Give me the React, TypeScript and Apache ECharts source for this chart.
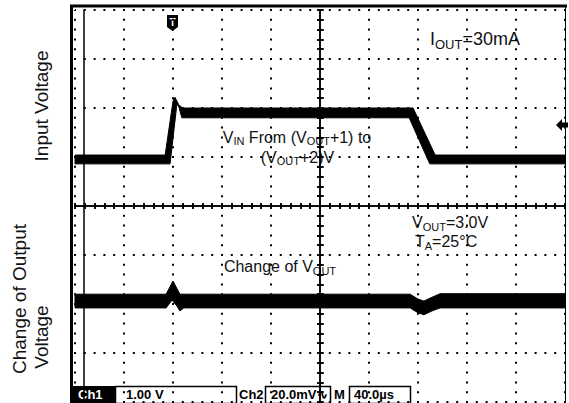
import React, { useEffect, useRef } from 'react';
import * as echarts from 'echarts';

// Oscilloscope screen: time in divisions (-5..5), voltage in divisions (-4..4)
const timeRange = [-5, 5];
const voltRange = [-4, 4];

// Ch1 (input voltage) trace envelope, [time div, volt div]
const ch1Top: number[][] = [
  [-5, 1.04], [-3.16, 1.04], [-3.0, 2.14], [-2.96, 2.22], [-2.88, 2.06], [-2.8, 2.0],
  [1.9, 2.0], [2.35, 1.04], [5, 1.04],
];
const ch1Bottom: number[][] = [
  [-5, 0.86], [-3.06, 0.86], [-2.92, 2.08], [-2.88, 2.02], [-2.82, 1.8],
  [1.82, 1.8], [2.24, 0.86], [5, 0.86],
];

// Ch2 (change of output voltage) trace envelope
const ch2Top: number[][] = [
  [-5, -1.8], [-3.14, -1.8], [-3.0, -1.53], [-2.86, -1.8], [1.84, -1.8], [2.0, -1.9],
  [2.12, -1.94], [2.29, -1.86], [2.45, -1.79], [5, -1.79],
];
const ch2Bottom: number[][] = [
  [-5, -2.08], [-3.14, -2.08], [-3.02, -1.92], [-2.92, -2.04], [-2.86, -2.14], [-2.78, -2.08],
  [1.84, -2.08], [2.0, -2.18], [2.12, -2.22], [2.29, -2.14], [2.45, -2.08], [5, -2.08],
];

const statusCh1 = 'Ch1';
const statusCh1Scale = '1.00 V';
const statusCh2 = 'Ch2';
const statusCh2Scale = '20.0mV\u223F';
const statusM = 'M';
const statusTime = '40.0\u00B5s';

const FONT = 'Liberation Sans, Arial, sans-serif';

const bandSeries = (top: number[][], bottom: number[][]) => ({
  type: 'custom',
  coordinateSystem: 'cartesian2d',
  xAxisIndex: 0,
  yAxisIndex: 0,
  silent: true,
  data: [[0, 0]],
  renderItem: (_p: any, api: any) => {
    const pts = [
      ...top.map((p) => api.coord(p)),
      ...bottom.slice().reverse().map((p) => api.coord(p)),
    ];
    return {
      type: 'polygon',
      shape: { points: pts },
      style: { fill: '#000', stroke: '#000', lineWidth: 1 },
    };
  },
});

const hidden = { show: false };
const tickAxis = (extra: any, inside: boolean, len: number) => ({
  type: 'value',
  axisLabel: hidden,
  splitLine: hidden,
  axisTick: { show: true, inside, length: len, lineStyle: { color: '#000', width: 1.5 } },
  minorTick: { show: true, splitNumber: 5, length: len, lineStyle: { color: '#000', width: 1.5 } },
  ...extra,
});

const dotted = { color: '#000', width: 2, type: [2, 7.8], dashOffset: 1 };

const sub = (size: number, drop: number) => ({ fontSize: size, fontFamily: FONT, fill: '#111', lineHeight: 7, padding: [drop, 0, 0, 0] });

const annot = (text: string, x: number, y: number, size: number, align: string, drop = 10) => ({
  type: 'text',
  style: {
    text, x, y, align, verticalAlign: 'middle', fontSize: size, lineHeight: size + 1,
    fontFamily: FONT, fill: '#111', rich: { s: sub(size - 5, drop) },
  },
});

const status = (text: string, x: number, fill: string) => ({
  type: 'text',
  style: { text, x, y: 394.5, align: 'left', verticalAlign: 'middle', fontSize: 13, fontWeight: 'bold', fontFamily: FONT, fill },
});

const App: React.FC = () => {
  const ref = useRef<HTMLDivElement>(null);
  useEffect(() => {
    if (!ref.current) return;
    const chart = echarts.init(ref.current, undefined, { renderer: 'svg' });
    const xCommon = { min: timeRange[0], max: timeRange[1], interval: 1 };
    const yCommon = { min: voltRange[0], max: voltRange[1], interval: 1 };
    const zeroLine = { show: true, onZero: true, onZeroAxisIndex: 0, lineStyle: { color: '#000', width: 1.5 } };
    const option: any = {
      animation: false,
      backgroundColor: '#fff',
      grid: { left: 75, top: 10, width: 490, height: 392, outerBoundsMode: 'none' },
      xAxis: [
        tickAxis({ ...xCommon, position: 'bottom', axisLine: hidden,
          splitLine: { show: true, lineStyle: dotted } }, true, 3),
        tickAxis({ ...xCommon, position: 'top', axisLine: hidden }, true, 3),
        tickAxis({ ...xCommon, position: 'bottom', axisLine: zeroLine }, true, 3),
        tickAxis({ ...xCommon, position: 'bottom', axisLine: zeroLine }, false, 3),
      ],
      yAxis: [
        tickAxis({ ...yCommon, position: 'left', axisLine: hidden,
          splitLine: { show: true, lineStyle: dotted } }, true, 4),
        tickAxis({ ...yCommon, position: 'right', axisLine: hidden }, true, 3),
        tickAxis({ ...yCommon, position: 'left', axisLine: zeroLine }, true, 3),
        tickAxis({ ...yCommon, position: 'left', axisLine: zeroLine }, false, 3),
        { type: 'value', ...yCommon, position: 'left', offset: -9, axisLabel: hidden, splitLine: hidden,
          axisTick: hidden, axisLine: { show: true, onZero: false, lineStyle: { color: '#000', width: 1.5 } } },
      ],
      series: [bandSeries(ch1Top, ch1Bottom), bandSeries(ch2Top, ch2Bottom)],
      graphic: [
        // frame
        { type: 'line', shape: { x1: 70, y1: 6, x2: 567, y2: 6 }, style: { stroke: '#000', lineWidth: 3 } },
        { type: 'line', shape: { x1: 71.5, y1: 5, x2: 71.5, y2: 403 }, style: { stroke: '#000', lineWidth: 3 } },
        { type: 'line', shape: { x1: 565.5, y1: 6, x2: 565.5, y2: 403 }, style: { stroke: '#000', lineWidth: 1 } },
        // trigger marker
        { type: 'polygon', shape: { points: [[167, 15], [178, 15], [178, 27], [172.5, 31], [167, 27]] }, style: { fill: '#000' } },
        { type: 'text', style: { text: 'T', x: 172.5, y: 22, align: 'center', verticalAlign: 'middle', fontSize: 10, fontWeight: 'bold', fontFamily: FONT, fill: '#fff' } },
        // trigger level arrow
        { type: 'polygon', shape: { points: [[556, 125], [562, 119], [562, 122.5], [568, 122.5], [568, 127.5], [562, 127.5], [562, 131]] }, style: { fill: '#000' } },
        // axis titles
        { type: 'text', x: 41, y: 106, rotation: Math.PI / 2, style: { text: 'Input Voltage', align: 'center', verticalAlign: 'middle', fontSize: 19, fontFamily: FONT, fill: '#111' } },
        { type: 'text', x: 19.5, y: 299, rotation: Math.PI / 2, style: { text: 'Change of Output', align: 'center', verticalAlign: 'middle', fontSize: 19, fontFamily: FONT, fill: '#111' } },
        { type: 'text', x: 41, y: 337, rotation: Math.PI / 2, style: { text: 'Voltage', align: 'center', verticalAlign: 'middle', fontSize: 19, fontFamily: FONT, fill: '#111' } },
        // annotations
        annot('I{s|OUT}=30mA', 430, 39.2, 18, 'left'),
        annot('V{s|IN} From (V{s|OUT}+1) to', 297, 137.5, 16, 'center', 7),
        annot('(V{s|OUT}+2)V', 297.5, 157.5, 16, 'center', 7),
        annot('V{s|OUT}=3.0V', 412, 222.4, 16, 'left'),
        annot('T{s|A}=25\u00B0C', 415, 241.4, 16, 'left'),
        annot('Change of V{s|OUT}', 280, 266.4, 16, 'center'),
        // status bar
        { type: 'rect', shape: { x: 73, y: 385, width: 338, height: 18 }, style: { fill: '#fff' } },
        { type: 'rect', shape: { x: 73, y: 386, width: 42, height: 17 }, style: { fill: '#000' } },
        status(statusCh1, 78, '#fff'),
        { type: 'rect', shape: { x: 115.5, y: 386.5, width: 121, height: 17 }, style: { fill: '#fff', stroke: '#000', lineWidth: 1.5 } },
        status(statusCh1Scale, 126, '#000'),
        status(statusCh2, 239, '#000'),
        { type: 'rect', shape: { x: 265.5, y: 386.5, width: 65, height: 17 }, style: { fill: '#fff', stroke: '#000', lineWidth: 1.5 } },
        status(statusCh2Scale, 271, '#000'),
        status(statusM, 334, '#000'),
        { type: 'rect', shape: { x: 349.5, y: 386.5, width: 61, height: 17 }, style: { fill: '#fff', stroke: '#000', lineWidth: 1.5 } },
        status(statusTime, 354, '#000'),
      ],
    };
    chart.setOption(option);
    return () => chart.dispose();
  }, []);
  return <div ref={ref} style={{ position: 'fixed', left: 0, top: 0, width: 569, height: 403 }} />;
};

export default App;
